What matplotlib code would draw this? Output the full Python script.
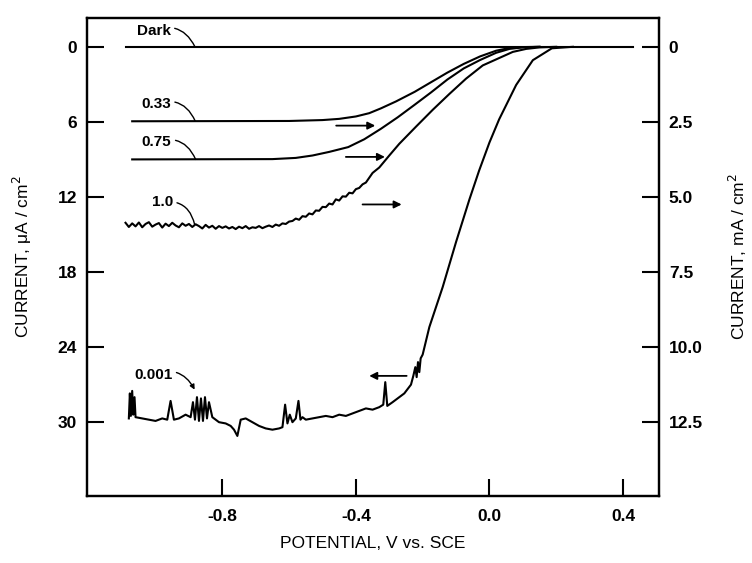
import matplotlib.pyplot as plt
import numpy as np

plt.rcParams['font.family'] = ['Liberation Sans', 'DejaVu Sans']

# dark current (uA / cm2)
dark_v = [-1.09, 0.43]
dark_i = [0.0, 0.0]

# 0.33 illumination (mA / cm2, right axis)
v033 = [-1.07, -0.60, -0.50, -0.45, -0.40, -0.36, -0.325, -0.28, -0.224, -0.175,
        -0.126, -0.077, -0.028, 0.02, 0.06, 0.10, 0.15]
i033 = [2.48, 2.47, 2.44, 2.40, 2.32, 2.21, 2.05, 1.82, 1.50, 1.18,
        0.86, 0.57, 0.32, 0.13, 0.04, 0.01, 0.0]

# 0.75 illumination (mA / cm2, right axis)
v075 = [-1.07, -0.65, -0.58, -0.53, -0.48, -0.423, -0.375, -0.325, -0.275, -0.224,
        -0.175, -0.126, -0.077, -0.028, 0.02, 0.06, 0.10, 0.15]
i075 = [3.75, 3.74, 3.70, 3.62, 3.50, 3.34, 3.08, 2.73, 2.35, 1.93,
        1.52, 1.09, 0.72, 0.44, 0.20, 0.07, 0.02, 0.0]

# 1.0 illumination (mA / cm2, right axis), noisy trace
v10 = [-1.09, -1.08, -1.07, -1.06, -1.05, -1.04, -1.03, -1.02, -1.01, -1.00,
       -0.99, -0.98, -0.97, -0.96, -0.95, -0.94, -0.93, -0.92, -0.91, -0.90,
       -0.89, -0.88, -0.87, -0.86, -0.85, -0.84, -0.83, -0.82, -0.81, -0.80,
       -0.79, -0.78, -0.77, -0.76, -0.75, -0.74, -0.73, -0.72, -0.71, -0.70,
       -0.69, -0.68, -0.67, -0.66, -0.65, -0.64, -0.63, -0.62, -0.61, -0.60,
       -0.59, -0.58, -0.57, -0.56, -0.55, -0.54, -0.53, -0.52, -0.51, -0.50,
       -0.49, -0.48, -0.47, -0.46, -0.45, -0.44, -0.43, -0.42, -0.41, -0.40,
       -0.39, -0.38, -0.37, -0.36, -0.35,
       -0.33, -0.30, -0.27, -0.22, -0.17, -0.12, -0.07, -0.02, 0.03, 0.07,
       0.11, 0.15, 0.20]
i10 = [5.86, 6.00, 5.88, 5.98, 5.85, 6.01, 5.90, 5.84, 5.99, 5.92,
       5.87, 6.02, 5.89, 5.97, 5.86, 5.95, 6.01, 5.88, 5.96, 5.90,
       6.00, 5.91, 5.97, 6.05, 5.93, 6.02, 5.96, 6.06, 5.97, 6.03,
       5.98, 6.05, 6.00, 6.07, 5.99, 6.04, 5.97, 6.06, 6.01, 6.03,
       5.97, 6.04, 5.99, 5.95, 6.00, 5.92, 5.96, 5.88, 5.90, 5.82,
       5.80, 5.72, 5.76, 5.64, 5.66, 5.55, 5.58, 5.45, 5.46, 5.33,
       5.34, 5.22, 5.25, 5.08, 5.12, 4.98, 4.99, 4.86, 4.88, 4.74,
       4.70, 4.58, 4.52, 4.36, 4.20,
       4.02, 3.62, 3.23, 2.66, 2.10, 1.57, 1.06, 0.62, 0.37, 0.17,
       0.07, 0.02, 0.0]

# 0.001 illumination (uA / cm2, left axis)
v0001 = [-1.08, -1.077, -1.074, -1.07, -1.067, -1.063, -1.06, -1.04, -1.02, -1.0,
         -0.98, -0.965, -0.955, -0.945, -0.93, -0.91, -0.895, -0.888, -0.882, -0.876,
         -0.87, -0.864, -0.858, -0.852, -0.846, -0.84, -0.83, -0.81, -0.79, -0.775,
         -0.765, -0.755, -0.745, -0.73, -0.71, -0.69, -0.67, -0.65, -0.63, -0.62,
         -0.612, -0.605, -0.598, -0.59, -0.58, -0.572, -0.566, -0.56, -0.55, -0.53,
         -0.51, -0.49, -0.47, -0.45, -0.43, -0.41, -0.39, -0.37, -0.35, -0.33,
         -0.318, -0.312, -0.306, -0.29, -0.27, -0.255, -0.235, -0.228, -0.222, -0.218,
         -0.214, -0.21, -0.206, -0.20, -0.18, -0.14, -0.10, -0.06, -0.031, 0.0,
         0.029, 0.08, 0.13, 0.187, 0.25]
i0001 = [29.7, 27.7, 29.5, 27.5, 29.4, 28.0, 29.6, 29.7, 29.8, 29.9,
         29.7, 29.8, 28.3, 29.8, 29.7, 29.4, 29.6, 28.4, 29.8, 28.0,
         29.9, 28.1, 29.9, 28.0, 29.7, 28.4, 29.6, 30.0, 30.1, 30.3,
         30.6, 31.1, 29.8, 29.7, 30.0, 30.3, 30.5, 30.6, 30.5, 30.4,
         28.6, 30.1, 29.4, 30.0, 29.7, 28.3, 29.8, 29.6, 29.8, 29.7,
         29.6, 29.5, 29.6, 29.4, 29.5, 29.3, 29.1, 28.9, 29.0, 28.8,
         28.6, 26.8, 28.7, 28.4, 28.0, 27.7, 27.0, 26.3, 25.6, 26.4,
         25.2, 26.0, 24.9, 24.6, 22.4, 19.2, 15.6, 12.2, 9.9, 7.65,
         5.8, 3.05, 1.07, 0.12, 0.0]

ua_ticks = [0, 6, 12, 18, 24, 30]
ma_ticks = [0, 2.5, 5.0, 7.5, 10.0, 12.5]
ma_labels = ['0', '2.5', '5.0', '7.5', '10.0', '12.5']
v_ticks = [-0.8, -0.4, 0.0, 0.4]
v_labels = ['-0.8', '-0.4', '0.0', '0.4']

ratio = 2.5 / 6.0  # mA per uA tick spacing
ylim_ua = (35.9, -2.3)

fig = plt.figure(figsize=(7.52, 5.63), dpi=100)
ax = fig.add_axes([0.1154, 0.119, 0.761, 0.849])
ax2 = ax.twinx()

lw = 1.5
ax.plot(dark_v, dark_i, color='black', lw=lw)
ax.plot(v0001, i0001, color='black', lw=lw)
ax2.plot(v033, i033, color='black', lw=lw)
ax2.plot(v075, i075, color='black', lw=lw)
ax2.plot(v10, i10, color='black', lw=lw)

ax.set_xlim(-1.206, 0.508)
ax.set_ylim(*ylim_ua)
ax2.set_ylim(ylim_ua[0] * ratio, ylim_ua[1] * ratio)

ax.set_xticks(v_ticks)
ax.set_xticklabels(v_labels)
ax.set_yticks(ua_ticks)
ax2.set_yticks(ma_ticks)
ax2.set_yticklabels(ma_labels)

ax.tick_params(axis='both', direction='in', length=12, width=1.5, labelsize=12.5)
ax.tick_params(axis='x', pad=9)
ax.tick_params(axis='y', pad=7)
ax2.tick_params(axis='y', direction='in', length=12, width=1.5, labelsize=12.5, pad=7)
for lab in ax.get_xticklabels() + ax.get_yticklabels() + ax2.get_yticklabels():
    lab.set_fontweight('bold')

for a in (ax, ax2):
    for s in a.spines.values():
        s.set_linewidth(1.6)

ax.set_xlabel('POTENTIAL, V vs. SCE', fontsize=12.5, labelpad=9)
ax.set_ylabel('CURRENT, μA / cm$^2$', fontsize=12.5, labelpad=17)
ax2.set_ylabel('CURRENT, mA / cm$^2$', fontsize=12.5, labelpad=17, rotation=90)

# curve labels with curled leader lines (left axis units)
lab_kw = dict(fontsize=11, fontweight='bold', ha='center', va='center')
curl = dict(arrowstyle='-', color='black', lw=1.0, connectionstyle='arc3,rad=-0.45',
            shrinkA=1, shrinkB=0)
ax.annotate('Dark', xy=(-0.882, 0.0), xytext=(-1.006, -1.3), arrowprops=curl, **lab_kw)
ax.annotate('0.33', xy=(-0.881, 5.95), xytext=(-0.999, 4.55), arrowprops=curl, **lab_kw)
ax.annotate('0.75', xy=(-0.88, 9.0), xytext=(-0.997, 7.6), arrowprops=curl, **lab_kw)
ax.annotate('1.0', xy=(-0.883, 14.2), xytext=(-0.98, 12.4), arrowprops=curl, **lab_kw)
curl_head = dict(curl, arrowstyle='-|>', mutation_scale=7)
ax.annotate('0.001', xy=(-0.883, 27.4), xytext=(-1.007, 26.2), arrowprops=curl_head, **lab_kw)

# pointers to the axis each curve is read on
arr = dict(arrowstyle='-|>', color='black', lw=1.3, mutation_scale=11, shrinkA=0, shrinkB=0)
ax.annotate('', xy=(-0.342, 6.3), xytext=(-0.459, 6.3), arrowprops=arr)
ax.annotate('', xy=(-0.313, 8.8), xytext=(-0.43, 8.8), arrowprops=arr)
ax.annotate('', xy=(-0.263, 12.6), xytext=(-0.38, 12.6), arrowprops=arr)
ax.annotate('', xy=(-0.36, 26.3), xytext=(-0.248, 26.3), arrowprops=arr)

fig.savefig('out.png', dpi=100)
